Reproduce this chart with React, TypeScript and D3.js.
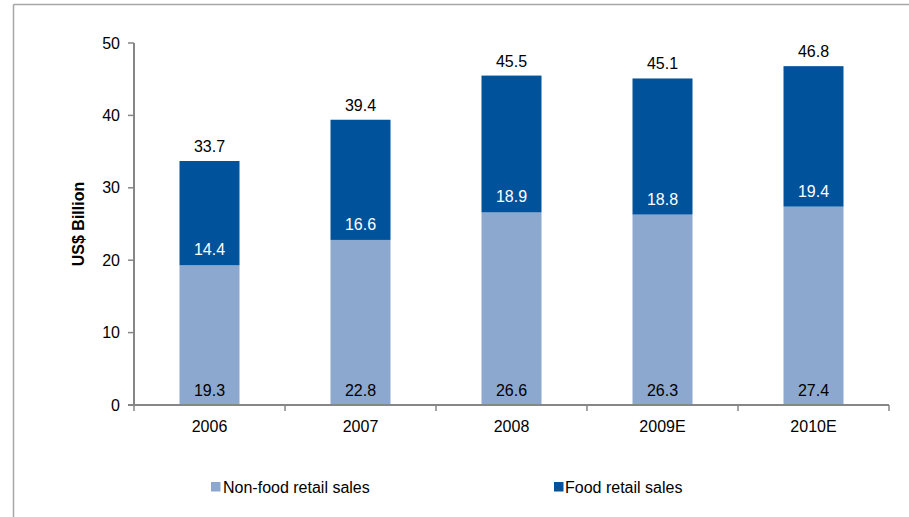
import React from "react";
import * as d3 from "d3";

const categories = ["2006", "2007", "2008", "2009E", "2010E"];
const nonFood = [19.3, 22.8, 26.6, 26.3, 27.4];
const food = [14.4, 16.6, 18.9, 18.8, 19.4];
const totals = [33.7, 39.4, 45.5, 45.1, 46.8];
const yTicks = [0, 10, 20, 30, 40, 50];
const seriesNames = ["Non-food retail sales", "Food retail sales"];

const LIGHT = "#8DA8CE";
const DARK = "#00529B";
const AXIS = "#868686";
const FONT = "'Liberation Sans', Arial, sans-serif";

export default function App() {
  const W = 909, H = 517;
  const x0 = 134, x1 = 889, yTop = 43, yBot = 405;
  const x = d3.scaleBand<string>().domain(categories).range([x0, x1]).paddingInner(0.6026).paddingOuter(0.3013);
  const y = d3.scaleLinear().domain([0, 50]).range([yBot, yTop]);
  const band = (x1 - x0) / categories.length;
  const bw = 60;
  const cx = (c: string) => x(c)! + x.bandwidth() / 2;

  return (
    <svg width={W} height={H} style={{ position: "absolute", left: 0, top: 0, background: "#fff" }} fontFamily={FONT}>
      <rect x={0} y={0} width={W} height={H} fill="#fff" />
      {/* outer border */}
      <line x1={13.5} y1={4.5} x2={W} y2={4.5} stroke="#A6A6A6" strokeWidth={1.5} />
      <line x1={13.5} y1={4.5} x2={13.5} y2={H} stroke="#A6A6A6" strokeWidth={1.5} />

      {/* bars */}
      {categories.map((c, i) => {
        const cxx = cx(c);
        return (
          <g key={c}>
            <rect x={cxx - bw / 2} y={y(nonFood[i])} width={bw} height={y(0) - y(nonFood[i])} fill={LIGHT} />
            <rect x={cxx - bw / 2} y={y(nonFood[i] + food[i])} width={bw} height={y(nonFood[i]) - y(nonFood[i] + food[i])} fill={DARK} />
            <text x={cxx} y={y(0) - 9} textAnchor="middle" fontSize={16} fill="#000">{nonFood[i].toFixed(1)}</text>
            <text x={cxx} y={y(nonFood[i]) - 10} textAnchor="middle" fontSize={16} fill="#fff">{food[i].toFixed(1)}</text>
            <text x={cxx} y={y(nonFood[i] + food[i]) - 9} textAnchor="middle" fontSize={16} fill="#000">{totals[i].toFixed(1)}</text>
          </g>
        );
      })}

      {/* y axis */}
      <line x1={x0} y1={yTop} x2={x0} y2={yBot} stroke={AXIS} strokeWidth={2} />
      {yTicks.map((t) => (
        <g key={t}>
          <line x1={x0 - 6} y1={y(t)} x2={x0} y2={y(t)} stroke={AXIS} strokeWidth={1.5} />
          <text x={120} y={y(t) + 5.5} textAnchor="end" fontSize={16} fill="#000">{t}</text>
        </g>
      ))}
      <text transform={`translate(84,${(yTop + yBot) / 2}) rotate(-90)`} textAnchor="middle" fontSize={16} fontWeight="bold" fill="#000">US$ Billion</text>

      {/* x axis */}
      <line x1={x0 - 6} y1={yBot} x2={x1} y2={yBot} stroke={AXIS} strokeWidth={2} />
      {d3.range(categories.length + 1).map((k) => (
        <line key={k} x1={x0 + k * band} y1={yBot} x2={x0 + k * band} y2={yBot + 6} stroke={AXIS} strokeWidth={1.5} />
      ))}
      {categories.map((c) => (
        <text key={c} x={cx(c)} y={432} textAnchor="middle" fontSize={16} fill="#000">{c}</text>
      ))}

      {/* legend */}
      <rect x={211} y={482} width={9.5} height={9.5} fill={LIGHT} />
      <text x={223} y={493} fontSize={16} fill="#000">{seriesNames[0]}</text>
      <rect x={554} y={482} width={9.5} height={9.5} fill={DARK} />
      <text x={565} y={493} fontSize={16} fill="#000">{seriesNames[1]}</text>
    </svg>
  );
}
